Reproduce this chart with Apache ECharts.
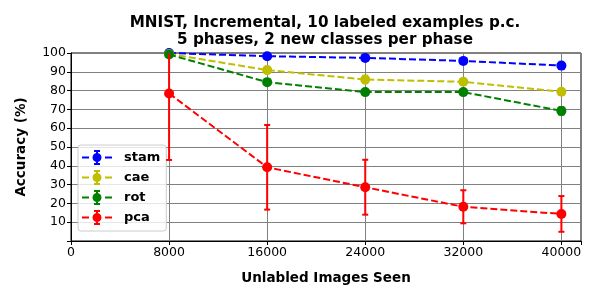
<!DOCTYPE html>
<html><head><meta charset="utf-8">
<script src="https://cdn.jsdelivr.net/npm/echarts@6/dist/echarts.min.js"></script>
<style>html,body{margin:0;padding:0;background:#fff}#c{width:600px;height:300px}</style>
</head><body><div id="c"></div>
<script>
const xValues = [8000, 16000, 24000, 32000, 40000];
const stamAcc = [100, 98.3, 97.4, 95.8, 93.3];
const stamErr = [0.3, 0.5, 0.5, 0.8, 1.0];
const caeAcc = [99.5, 90.9, 85.9, 84.7, 79.4];
const caeErr = [1.0, 1.5, 2.0, 1.5, 1.5];
const rotAcc = [99.2, 84.5, 79.2, 79.2, 69.2];
const rotErr = [1.0, 1.5, 1.0, 1.0, 2.0];
const pcaAcc = [78.5, 39.2, 28.6, 18.2, 14.4];
const pcaErr = [35.4, 22.5, 14.6, 8.8, 9.5];
const seriesNames = ['stam', 'cae', 'rot', 'pca'];
const seriesColors = ['#0000ff', '#bfbf00', '#008000', '#ff0000'];
const allAcc = [stamAcc, caeAcc, rotAcc, pcaAcc];
const allErr = [stamErr, caeErr, rotErr, pcaErr];
const xTicks = [0, 8000, 16000, 24000, 32000, 40000];
const yTicks = [10, 20, 30, 40, 50, 60, 70, 80, 90, 100];

const FONT = 'DejaVu Sans';
function rect(x, y, w, h) { return `M${x} ${y}h${w}v${h}h${-w}Z`; }
const iconPath = 'path://' + rect(0, 7, 7, 2) + rect(23, 7, 7, 2) + rect(14, 0.5, 2, 15) +
  rect(12, 0.5, 6, 2) + rect(12, 13.5, 6, 2) +
  'M10.5 8A4.5 4.5 0 1 1 19.5 8A4.5 4.5 0 1 1 10.5 8Z';

const series = [];
seriesNames.forEach((name, i) => {
  const color = seriesColors[i];
  series.push({
    type: 'custom', name: name, clip: true, z: 2 + i * 2,
    data: xValues.map((x, k) => [x, allAcc[i][k] - allErr[i][k], allAcc[i][k] + allErr[i][k]]),
    renderItem: function (params, api) {
      const x = api.value(0);
      const p1 = api.coord([x, api.value(1)]);
      const p2 = api.coord([x, api.value(2)]);
      const hw = 3;
      const st = { stroke: color, lineWidth: 2 };
      return { type: 'group', children: [
        { type: 'line', shape: { x1: p1[0], y1: p1[1], x2: p2[0], y2: p2[1] }, style: st },
        { type: 'line', shape: { x1: p1[0] - hw, y1: p1[1], x2: p1[0] + hw, y2: p1[1] }, style: st },
        { type: 'line', shape: { x1: p2[0] - hw, y1: p2[1], x2: p2[0] + hw, y2: p2[1] }, style: st }
      ]};
    },
    silent: true
  });
  series.push({
    type: 'line', name: name, z: 3 + i * 2,
    data: xValues.map((x, k) => [x, allAcc[i][k]]),
    symbol: 'circle', symbolSize: 10,
    itemStyle: { color: color },
    lineStyle: { color: color, width: 2, type: [7, 3] },
    animation: false
  });
});

const chart = echarts.init(document.getElementById('c'), null, { renderer: 'canvas' });
chart.setOption({
  animation: false,
  backgroundColor: '#fff',
  title: {
    text: 'MNIST, Incremental, 10 labeled examples p.c.\n5 phases, 2 new classes per phase',
    left: 320, top: 10, textAlign: 'center',
    textStyle: { fontFamily: FONT, fontWeight: 'bold', fontSize: 15.2, lineHeight: 17, color: '#000' }
  },
  legend: {
    orient: 'vertical', left: 78, top: 145,
    data: seriesNames.map((n, i) => ({ name: n, icon: iconPath, itemStyle: { color: seriesColors[i] } })),
    itemWidth: 30, itemHeight: 16, itemGap: 5,
    padding: [5, 6, 6, 4],
    backgroundColor: 'rgba(255,255,255,0.8)', borderColor: '#cccccc', borderWidth: 1, borderRadius: 3,
    textStyle: { fontFamily: FONT, fontWeight: 'bold', fontSize: 13, color: '#000', padding: [0, 0, 0, 7] }
  },
  grid: { left: 71, right: 19, top: 53, bottom: 59, show: true, borderColor: '#000', borderWidth: 1, backgroundColor: 'transparent' },
  xAxis: {
    type: 'value', min: 0, max: 41600, interval: 8000,
    name: 'Unlabled Images Seen', nameLocation: 'middle', nameGap: 30,
    nameTextStyle: { fontFamily: FONT, fontWeight: 'bold', fontSize: 13.5, color: '#000' },
    axisLine: { lineStyle: { color: '#000', width: 1 } },
    axisTick: { show: true, length: 4, lineStyle: { color: '#000' } },
    axisLabel: { fontFamily: FONT, fontSize: 12.5, color: '#000', margin: 5,
      formatter: v => xTicks.includes(v) ? String(v) : '' },
    splitLine: { show: true, lineStyle: { color: '#808080', width: 1 } }
  },
  yAxis: {
    type: 'value', min: 0, max: 100, interval: 10,
    name: 'Accuracy (%)', nameLocation: 'middle', nameGap: 43,
    nameTextStyle: { fontFamily: FONT, fontWeight: 'bold', fontSize: 13.5, color: '#000' },
    axisLine: { show: true, lineStyle: { color: '#000', width: 1 } },
    axisTick: { show: true, length: 4, lineStyle: { color: '#000' } },
    axisLabel: { fontFamily: FONT, fontSize: 12.5, color: '#000', margin: 5,
      formatter: v => yTicks.includes(v) ? String(v) : '' },
    splitLine: { show: true, lineStyle: { color: '#808080', width: 1 } }
  },
  series: series
});
</script></body></html>
